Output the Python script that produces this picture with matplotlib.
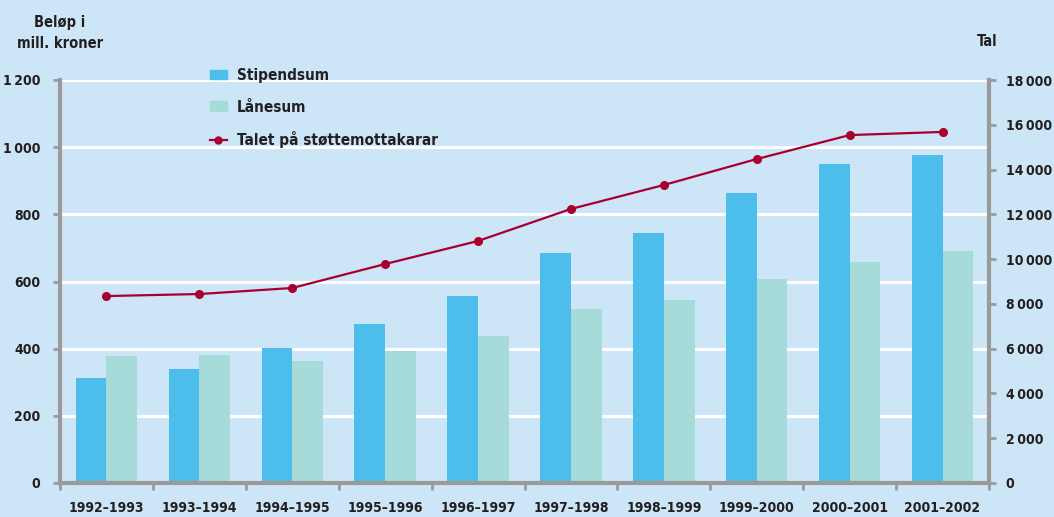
import matplotlib.pyplot as plt
import numpy as np
from matplotlib.patches import Patch
from matplotlib.lines import Line2D
import matplotlib.ticker as ticker

# Data
years = ["1992–1993", "1993–1994", "1994–1995", "1995–1996", "1996–1997",
         "1997–1998", "1998–1999", "1999–2000", "2000–2001", "2001–2002"]
stipendsum = [313, 340, 402, 473, 557, 685, 745, 864, 950, 977]
laanesum = [378, 381, 363, 393, 438, 518, 545, 607, 658, 691]
mottakarar = [8350, 8440, 8710, 9780, 10810, 12240, 13310, 14470, 15540, 15680]

bg = "#cde6f7"
c_stip = "#4dbdec"
c_laan = "#a6dbd9"
c_line = "#a8002e"
c_axis = "#9a9a9a"
c_text = "#231f20"

plt.rcParams['font.family'] = ['DejaVu Sans']
plt.rcParams['font.stretch'] = 'condensed'
plt.rcParams['font.weight'] = 'bold'

# thousands separated by a thin space
fmt = ticker.FuncFormatter(lambda v, _: f"{int(v):,}".replace(",", "\u2009"))

fig = plt.figure(figsize=(10.54, 5.17), dpi=100, facecolor=bg)
ax = fig.add_axes([60 / 1054, (517 - 483) / 517, (989 - 60) / 1054, (483 - 80) / 517])
ax.set_facecolor(bg)

x = np.arange(len(years))
w = 0.33
ax.bar(x - w / 2, stipendsum, w, color=c_stip, zorder=3)
ax.bar(x + w / 2, laanesum, w, color=c_laan, zorder=3)

ax.set_xlim(-0.5, len(years) - 0.5)
ax.set_ylim(0, 1200)
ax.set_yticks(range(0, 1201, 200))
ax.yaxis.set_major_formatter(fmt)
for yv in range(200, 1201, 200):
    ax.axhline(yv, color="white", lw=2.2, zorder=1)

ax.set_xticks(x)
ax.set_xticklabels(years)
ax.set_xticks(np.arange(-0.5, len(years), 1), minor=True)
ax.tick_params(axis="x", which="major", length=0, pad=13, labelsize=10, labelcolor=c_text)
ax.tick_params(axis="x", which="minor", length=5, width=2, color=c_axis, direction="out")
ax.tick_params(axis="y", length=5, width=2, color=c_axis, pad=9, labelsize=10, labelcolor=c_text)

for s in ["top", "right"]:
    ax.spines[s].set_visible(False)
for s in ["left", "bottom"]:
    ax.spines[s].set_color(c_axis)
    ax.spines[s].set_linewidth(3)
    ax.spines[s].set_zorder(5)

ax2 = ax.twinx()
ax2.plot(x, mottakarar, color=c_line, lw=1.6, marker="o", ms=5.5, zorder=4)
ax2.set_ylim(0, 18000)
ax2.set_yticks(range(0, 18001, 2000))
ax2.yaxis.set_major_formatter(fmt)
ax2.tick_params(axis="y", length=5, width=2, color=c_axis, pad=7, labelsize=10, labelcolor=c_text)
for s in ["top", "left", "bottom"]:
    ax2.spines[s].set_visible(False)
ax2.spines["right"].set_color(c_axis)
ax2.spines["right"].set_linewidth(3)

fig.text(60 / 1054, 1 - 33 / 517, "Beløp i\nmill. kroner", ha="center", va="center",
         fontsize=10.5, color=c_text, linespacing=1.5)
fig.text(987 / 1054, 1 - 42 / 517, "Tal", ha="center", va="center", fontsize=10.5, color=c_text)

handles = [Patch(color=c_stip), Patch(color=c_laan),
           Line2D([], [], color=c_line, lw=1.6, marker="o", ms=5)]
labels = ["Stipendsum", "Lånesum", "Talet på støttemottakarar"]
leg = ax2.legend(handles, labels, loc="upper left", bbox_to_anchor=(196 / 1054, 1 - 54 / 517),
                 bbox_transform=fig.transFigure, frameon=False, fontsize=11,
                 handlelength=1.1, handleheight=0.6, labelspacing=1.1, handletextpad=0.7)
for t in leg.get_texts():
    t.set_color(c_text)

fig.savefig("out.png", dpi=100, facecolor=bg)
